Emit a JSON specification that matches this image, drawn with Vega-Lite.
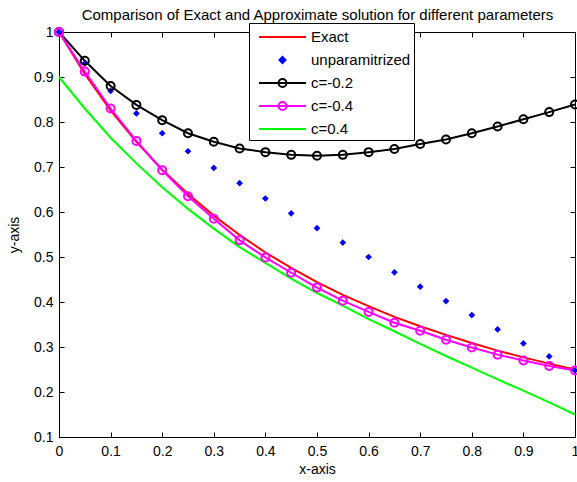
{
  "$schema": "https://vega.github.io/schema/vega-lite/v6.json",
  "width": 516,
  "height": 405,
  "autosize": {"type": "none"},
  "padding": {"left": 59, "top": 32, "right": 2, "bottom": 45},
  "background": "white",
  "config": {
    "view": {"stroke": "black", "strokeWidth": 1},
    "font": "Liberation Sans",
    "axis": {"grid": false, "domainColor": "black", "tickColor": "black", "labelColor": "black", "titleColor": "black", "labelFont": "Liberation Sans", "titleFont": "Liberation Sans", "labelFontSize": 14, "titleFontSize": 14, "titleFontWeight": "normal", "tickSize": -5}
  },
  "data": {"values": [
    {"x":0,"s":"Exact","y":1},{"x":0.05,"s":"Exact","y":0.907},{"x":0.1,"s":"Exact","y":0.826},{"x":0.15,"s":"Exact","y":0.756},{"x":0.2,"s":"Exact","y":0.694},{"x":0.25,"s":"Exact","y":0.64},{"x":0.3,"s":"Exact","y":0.592},{"x":0.35,"s":"Exact","y":0.549},{"x":0.4,"s":"Exact","y":0.51},{"x":0.45,"s":"Exact","y":0.476},{"x":0.5,"s":"Exact","y":0.444},{"x":0.55,"s":"Exact","y":0.416},{"x":0.6,"s":"Exact","y":0.391},{"x":0.65,"s":"Exact","y":0.367},{"x":0.7,"s":"Exact","y":0.346},{"x":0.75,"s":"Exact","y":0.327},{"x":0.8,"s":"Exact","y":0.309},{"x":0.85,"s":"Exact","y":0.292},{"x":0.9,"s":"Exact","y":0.277},{"x":0.95,"s":"Exact","y":0.263},{"x":1,"s":"Exact","y":0.25},
    {"x":0,"s":"unparamitrized","y":1},{"x":0.05,"s":"unparamitrized","y":0.93},{"x":0.1,"s":"unparamitrized","y":0.869},{"x":0.15,"s":"unparamitrized","y":0.819},{"x":0.2,"s":"unparamitrized","y":0.775},{"x":0.25,"s":"unparamitrized","y":0.735},{"x":0.3,"s":"unparamitrized","y":0.698},{"x":0.35,"s":"unparamitrized","y":0.664},{"x":0.4,"s":"unparamitrized","y":0.63},{"x":0.45,"s":"unparamitrized","y":0.597},{"x":0.5,"s":"unparamitrized","y":0.564},{"x":0.55,"s":"unparamitrized","y":0.532},{"x":0.6,"s":"unparamitrized","y":0.5},{"x":0.65,"s":"unparamitrized","y":0.466},{"x":0.7,"s":"unparamitrized","y":0.434},{"x":0.75,"s":"unparamitrized","y":0.402},{"x":0.8,"s":"unparamitrized","y":0.371},{"x":0.85,"s":"unparamitrized","y":0.339},{"x":0.9,"s":"unparamitrized","y":0.308},{"x":0.95,"s":"unparamitrized","y":0.279},{"x":1,"s":"unparamitrized","y":0.248},
    {"x":0,"s":"c=-0.2","y":1},{"x":0.05,"s":"c=-0.2","y":0.936},{"x":0.1,"s":"c=-0.2","y":0.88},{"x":0.15,"s":"c=-0.2","y":0.838},{"x":0.2,"s":"c=-0.2","y":0.804},{"x":0.25,"s":"c=-0.2","y":0.775},{"x":0.3,"s":"c=-0.2","y":0.756},{"x":0.35,"s":"c=-0.2","y":0.741},{"x":0.4,"s":"c=-0.2","y":0.733},{"x":0.45,"s":"c=-0.2","y":0.727},{"x":0.5,"s":"c=-0.2","y":0.725},{"x":0.55,"s":"c=-0.2","y":0.727},{"x":0.6,"s":"c=-0.2","y":0.733},{"x":0.65,"s":"c=-0.2","y":0.74},{"x":0.7,"s":"c=-0.2","y":0.751},{"x":0.75,"s":"c=-0.2","y":0.761},{"x":0.8,"s":"c=-0.2","y":0.775},{"x":0.85,"s":"c=-0.2","y":0.79},{"x":0.9,"s":"c=-0.2","y":0.806},{"x":0.95,"s":"c=-0.2","y":0.822},{"x":1,"s":"c=-0.2","y":0.839},
    {"x":0,"s":"c=-0.4","y":1},{"x":0.05,"s":"c=-0.4","y":0.912},{"x":0.1,"s":"c=-0.4","y":0.83},{"x":0.15,"s":"c=-0.4","y":0.758},{"x":0.2,"s":"c=-0.4","y":0.693},{"x":0.25,"s":"c=-0.4","y":0.635},{"x":0.3,"s":"c=-0.4","y":0.585},{"x":0.35,"s":"c=-0.4","y":0.537},{"x":0.4,"s":"c=-0.4","y":0.499},{"x":0.45,"s":"c=-0.4","y":0.465},{"x":0.5,"s":"c=-0.4","y":0.432},{"x":0.55,"s":"c=-0.4","y":0.403},{"x":0.6,"s":"c=-0.4","y":0.378},{"x":0.65,"s":"c=-0.4","y":0.354},{"x":0.7,"s":"c=-0.4","y":0.336},{"x":0.75,"s":"c=-0.4","y":0.316},{"x":0.8,"s":"c=-0.4","y":0.299},{"x":0.85,"s":"c=-0.4","y":0.283},{"x":0.9,"s":"c=-0.4","y":0.27},{"x":0.95,"s":"c=-0.4","y":0.258},{"x":1,"s":"c=-0.4","y":0.248},
    {"x":0,"s":"c=0.4","y":0.9},{"x":0.05,"s":"c=0.4","y":0.83},{"x":0.1,"s":"c=0.4","y":0.765},{"x":0.15,"s":"c=0.4","y":0.708},{"x":0.2,"s":"c=0.4","y":0.655},{"x":0.25,"s":"c=0.4","y":0.607},{"x":0.3,"s":"c=0.4","y":0.563},{"x":0.35,"s":"c=0.4","y":0.522},{"x":0.4,"s":"c=0.4","y":0.487},{"x":0.45,"s":"c=0.4","y":0.452},{"x":0.5,"s":"c=0.4","y":0.42},{"x":0.55,"s":"c=0.4","y":0.392},{"x":0.6,"s":"c=0.4","y":0.362},{"x":0.65,"s":"c=0.4","y":0.335},{"x":0.7,"s":"c=0.4","y":0.307},{"x":0.75,"s":"c=0.4","y":0.28},{"x":0.8,"s":"c=0.4","y":0.254},{"x":0.85,"s":"c=0.4","y":0.228},{"x":0.9,"s":"c=0.4","y":0.203},{"x":0.95,"s":"c=0.4","y":0.177},{"x":1,"s":"c=0.4","y":0.15}
  ]},
  "resolve": {"axis": {"x": "independent", "y": "independent"}},
  "layer": [
    {
      "transform": [{"filter": "datum.s === 'c=0.4'"}],
      "mark": {"type": "line", "strokeWidth": 2},
      "encoding": {
        "x": {"field": "x", "type": "quantitative", "scale": {"domain": [0, 1], "nice": false, "zero": false}, "axis": {"orient": "top", "labels": false, "domain": false, "values": [0,0.1,0.2,0.3,0.4,0.5,0.6,0.7,0.8,0.9,1], "title": "Comparison of Exact and Approximate solution for different parameters", "titlePadding": 12, "titleBaseline": "alphabetic", "titleAnchor": "middle", "titleFontSize": 15}},
        "y": {"field": "y", "type": "quantitative", "scale": {"domain": [0.1, 1], "nice": false, "zero": false}, "axis": {"orient": "right", "labels": false, "title": null, "domain": false, "values": [0.1,0.2,0.3,0.4,0.5,0.6,0.7,0.8,0.9,1]}},
        "color": {"field": "s", "type": "nominal", "scale": {"domain": ["Exact", "unparamitrized", "c=-0.2", "c=-0.4", "c=0.4"], "range": ["#ff0000", "#0000ff", "#000000", "#ff00ff", "#00ff00"]},
          "legend": {
            "orient": "none", "legendX": 190, "legendY": -9, "title": null,
            "strokeColor": "black", "fillColor": "white", "padding": 3,
            "labelFont": "Liberation Sans", "labelFontSize": 15, "labelColor": "black",
            "symbolSize": 400, "labelOffset": 37, "rowPadding": 4, "symbolStrokeWidth": 2,
            "symbolFillColor": "transparent",
            "encode": {"symbols": {"update": {
              "shape": {"signal": "datum.value === 'unparamitrized' ? 'M1.95,-0.3L2.25,0L1.95,0.3L1.65,0ZM1.95,-0.12L2.07,0L1.95,0.12L1.83,0Z' : (datum.value === 'c=-0.2' || datum.value === 'c=-0.4') ? 'M-0.4,0H4.3M1.55,0A0.4,0.4 0 1,0 2.35,0A0.4,0.4 0 1,0 1.55,0' : 'M-0.4,0H4.3'"},
              "fill": {"value": "transparent"},
              "stroke": {"signal": "scale('color', datum.value)"},
              "strokeWidth": {"value": 2},
              "opacity": {"value": 1}
            }}}
          }}
      }
    },
    {
      "transform": [{"filter": "datum.s === 'Exact' || datum.s === 'c=-0.2' || datum.s === 'c=-0.4'"}],
      "mark": {"type": "line", "strokeWidth": 2},
      "encoding": {
        "x": {"field": "x", "type": "quantitative", "axis": {"title": "x-axis", "values": [0,0.1,0.2,0.3,0.4,0.5,0.6,0.7,0.8,0.9,1], "format": "~g", "labelPadding": 12, "titlePadding": 4, "labelFlush": false}},
        "y": {"field": "y", "type": "quantitative", "axis": {"title": "y-axis", "values": [0.1,0.2,0.3,0.4,0.5,0.6,0.7,0.8,0.9,1], "format": "~g", "labelPadding": 11, "titlePadding": 12, "labelFlush": false}},
        "color": {"field": "s", "type": "nominal"}
      }
    },
    {
      "transform": [{"filter": "datum.s === 'unparamitrized'"}],
      "mark": {"type": "point", "shape": "diamond", "filled": false, "size": 10, "strokeWidth": 2.5, "opacity": 1},
      "encoding": {
        "x": {"field": "x", "type": "quantitative", "axis": null},
        "y": {"field": "y", "type": "quantitative", "axis": null},
        "color": {"field": "s", "type": "nominal"}
      }
    },
    {
      "transform": [{"filter": "datum.s === 'c=-0.2' || datum.s === 'c=-0.4'"}],
      "mark": {"type": "point", "shape": "circle", "filled": false, "size": 64, "strokeWidth": 2, "opacity": 1},
      "encoding": {
        "x": {"field": "x", "type": "quantitative", "axis": null},
        "y": {"field": "y", "type": "quantitative", "axis": null},
        "color": {"field": "s", "type": "nominal"}
      }
    }
  ]
}
